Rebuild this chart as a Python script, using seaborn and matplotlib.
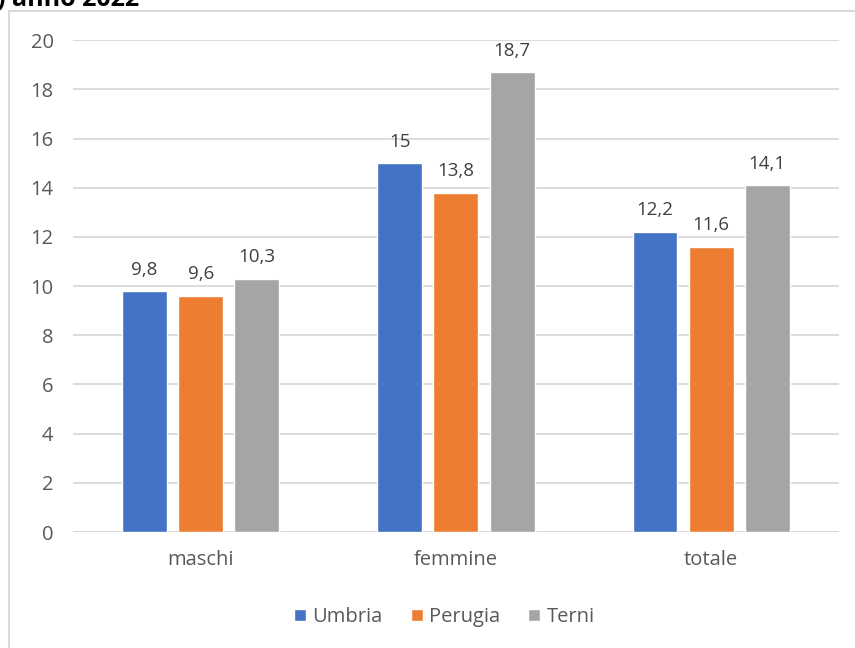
import matplotlib
matplotlib.use("Agg")
import matplotlib.pyplot as plt
import seaborn as sns
import pandas as pd
from matplotlib.patches import Rectangle

# dati
categorie = ["maschi", "femmine", "totale"]
territori = ["Umbria", "Perugia", "Terni"]
umbria = [9.8, 15.0, 12.2]
perugia = [9.6, 13.8, 11.6]
terni = [10.3, 18.7, 14.1]
colori = ["#4472C4", "#ED7D31", "#A5A5A5"]

df = pd.DataFrame({
    "categoria": categorie * 3,
    "territorio": [t for t in territori for _ in categorie],
    "valore": umbria + perugia + terni,
})

sns.set_style("white")
plt.rcParams["font.family"] = ["Open Sans", "DejaVu Sans"]

fig = plt.figure(figsize=(8.55, 6.48), dpi=100)
ax = fig.add_axes([0.0854, 0.179, 0.8956, 0.759])

sns.barplot(data=df, x="categoria", y="valore", hue="territorio",
            palette=colori, width=0.66, gap=0.2, ax=ax, legend=True,
            saturation=1, errorbar=None)

# etichette dei valori
for cont in ax.containers:
    labels = [f"{v:g}".replace(".", ",") for v in cont.datavalues]
    ax.bar_label(cont, labels=labels, padding=9, fontsize=13.5, color="#404040")

ax.set_ylim(0, 20)
ax.set_xlim(-0.5, 2.5)
ax.set_yticks(range(0, 21, 2))
ax.yaxis.grid(True, color="#D9D9D9", linewidth=1.3)
ax.set_axisbelow(True)
for s in ax.spines.values():
    s.set_visible(False)
ax.tick_params(axis="both", length=0, labelsize=14.5, labelcolor="#595959")
ax.tick_params(axis="y", pad=14)
ax.tick_params(axis="x", pad=13)
ax.set_xlabel("")
ax.set_ylabel("")
ax.axhline(0, color="#D9D9D9", linewidth=1.3, zorder=0)

ax.legend(loc="center", bbox_to_anchor=(0.485, -0.173), ncol=3, frameon=False,
          fontsize=14.5, labelcolor="#595959", handlelength=0.6, handleheight=0.6,
          handletextpad=0.3, columnspacing=1.4)

# bordo dell'area del grafico
fig.patches.append(Rectangle((9 / 855, -0.05), 1.0, 1 - 11 / 648 + 0.05,
                             transform=fig.transFigure, fill=False,
                             edgecolor="#D9D9D9", linewidth=1.5))

# titolo tagliato in alto
fig.text(-0.004, 1.0, ") anno 2022", fontsize=18, fontweight="bold",
         color="#000000", va="center", ha="left")

fig.savefig("out.png", dpi=100)
